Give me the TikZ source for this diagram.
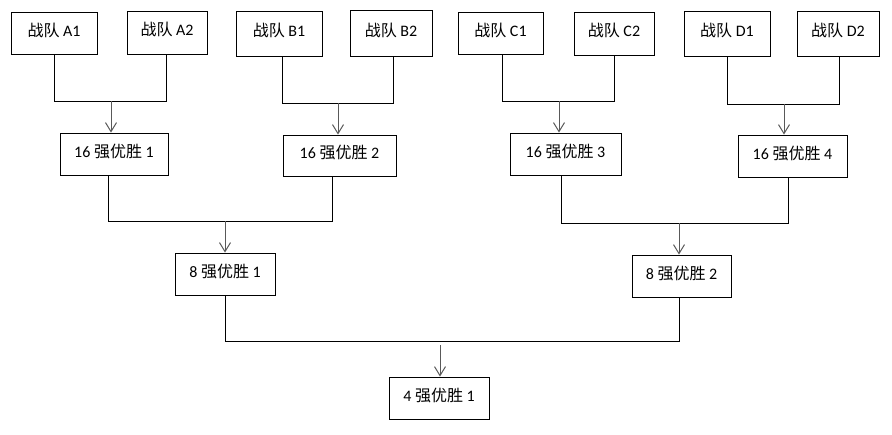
\documentclass[tikz,border=0pt]{standalone}
\usepackage{fontspec}
\setmainfont{Carlito}
\newfontfamily\cjk{Noto Sans CJK SC}
\usetikzlibrary{arrows.meta}
\begin{document}
\begin{tikzpicture}[x=1pt,y=-1pt,
  box/.style={draw=black, line width=0.9pt, inner sep=0pt, text height=14pt, text depth=8pt, font=\fontsize{16}{19}\selectfont},
  lnk/.style={draw=black, line width=0.9pt},
  arr/.style={draw=black!65, line width=1pt, -{Straight Barb[length=9pt,width=11pt]}}]
\useasboundingbox[fill=white] (0,0) rectangle (892,434);
\newcommand\bx[6]{\node[box, minimum width=#4pt, minimum height=#5pt] (#1) at (#2,#3) {#6};}
% first round
\bx{A1}{54}{33}{86}{42}{{\cjk 战队} A1}
\bx{A2}{167}{32.5}{80}{43}{{\cjk 战队} A2}
\bx{B1}{279}{33.5}{86}{45}{{\cjk 战队} B1}
\bx{B2}{391}{33}{82}{46}{{\cjk 战队} B2}
\bx{C1}{500.5}{33}{85}{42}{{\cjk 战队} C1}
\bx{C2}{614}{33.5}{80}{43}{{\cjk 战队} C2}
\bx{D1}{727}{33.5}{86}{45}{{\cjk 战队} D1}
\bx{D2}{838}{33.5}{82}{45}{{\cjk 战队} D2}
% 16
\bx{W1}{114}{154}{108}{42}{16 {\cjk 强优胜} 1}
\bx{W2}{339.5}{155.5}{113}{41}{16 {\cjk 强优胜} 2}
\bx{W3}{565.5}{154}{111}{42}{16 {\cjk 强优胜} 3}
\bx{W4}{792.5}{156}{109}{42}{16 {\cjk 强优胜} 4}
% 8
\bx{E1}{225}{274}{100}{42}{8 {\cjk 强优胜} 1}
\bx{E2}{681.5}{276}{99}{42}{8 {\cjk 强优胜} 2}
% 4
\bx{F1}{439}{398}{100}{42}{4 {\cjk 强优胜} 1}
% bracket coordinates
\coordinate (al) at (54,101);  \coordinate (ar) at (166,101); \coordinate (aj) at (111,101);
\coordinate (bl) at (282,103); \coordinate (br) at (393,103); \coordinate (bj) at (338,103);
\coordinate (cl) at (502,101); \coordinate (cr) at (614,101); \coordinate (cj) at (559,101);
\coordinate (dl) at (727,104); \coordinate (dr) at (839,104); \coordinate (dj) at (784,104);
\coordinate (el) at (108,221); \coordinate (er) at (332,221); \coordinate (ej) at (225,221);
\coordinate (fl) at (561,223); \coordinate (fr) at (788,223); \coordinate (fj) at (679,223);
\coordinate (gl) at (225,341); \coordinate (gr) at (679,341); \coordinate (gj) at (440,345);
% connectors
\draw[lnk] (A1.south -| al) -- (al) -- (ar) -- (A2.south -| ar);
\draw[arr] (aj) -- (aj |- W1.north);
\draw[lnk] (B1.south -| bl) -- (bl) -- (br) -- (B2.south -| br);
\draw[arr] (bj) -- (bj |- W2.north);
\draw[lnk] (C1.south -| cl) -- (cl) -- (cr) -- (C2.south -| cr);
\draw[arr] (cj) -- (cj |- W3.north);
\draw[lnk] (D1.south -| dl) -- (dl) -- (dr) -- (D2.south -| dr);
\draw[arr] (dj) -- (dj |- W4.north);
\draw[lnk] (W1.south -| el) -- (el) -- (er) -- (W2.south -| er);
\draw[arr] (ej) -- (ej |- E1.north);
\draw[lnk] (W3.south -| fl) -- (fl) -- (fr) -- (W4.south -| fr);
\draw[arr] (fj) -- (fj |- E2.north);
\draw[lnk] (E1.south -| gl) -- (gl) -- (gr) -- (E2.south -| gr);
\draw[arr] (gj) -- (gj |- F1.north);
\end{tikzpicture}
\end{document}
